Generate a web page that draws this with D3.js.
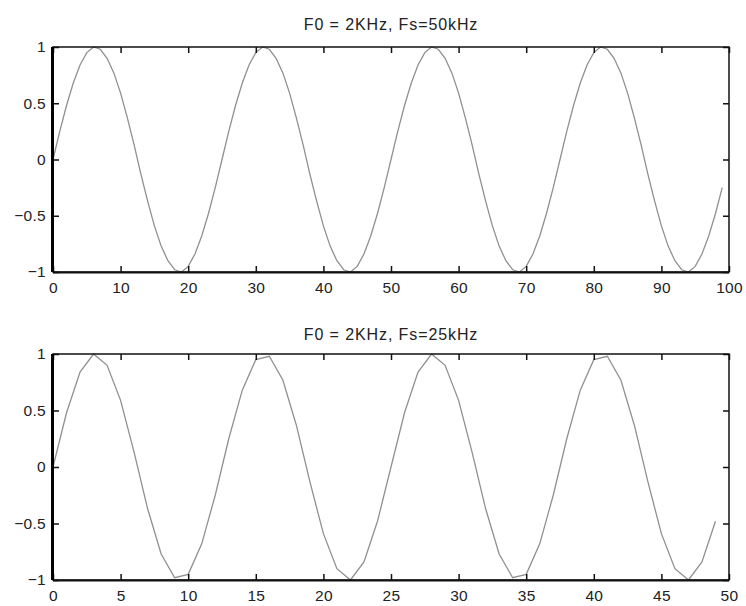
<!DOCTYPE html>
<html>
<head>
<meta charset="utf-8">
<script src="https://cdn.jsdelivr.net/npm/d3@7"></script>
<style>
  body { margin: 0; background: #fff; }
  svg { display: block; }
  text { font-family: "Liberation Sans", Arial, sans-serif; fill: #222; }
</style>
</head>
<body>
<svg id="chart" width="746" height="606"></svg>
<script>
// samples (sample index -> amplitude)
var fs50Values = [
  0, 0.25, 0.48, 0.68, 0.84, 0.95, 1.00, 0.98, 0.90, 0.77, 0.59, 0.37, 0.13,
  -0.13, -0.37, -0.59, -0.77, -0.90, -0.98, -1.00, -0.95, -0.84, -0.68, -0.48, -0.25,
  0, 0.25, 0.48, 0.68, 0.84, 0.95, 1.00, 0.98, 0.90, 0.77, 0.59, 0.37, 0.13,
  -0.13, -0.37, -0.59, -0.77, -0.90, -0.98, -1.00, -0.95, -0.84, -0.68, -0.48, -0.25,
  0, 0.25, 0.48, 0.68, 0.84, 0.95, 1.00, 0.98, 0.90, 0.77, 0.59, 0.37, 0.13,
  -0.13, -0.37, -0.59, -0.77, -0.90, -0.98, -1.00, -0.95, -0.84, -0.68, -0.48, -0.25,
  0, 0.25, 0.48, 0.68, 0.84, 0.95, 1.00, 0.98, 0.90, 0.77, 0.59, 0.37, 0.13,
  -0.13, -0.37, -0.59, -0.77, -0.90, -0.98, -1.00, -0.95, -0.84, -0.68, -0.48, -0.25
];
var fs25Values = [
  0, 0.48, 0.84, 1.00, 0.90, 0.59, 0.13, -0.37, -0.77, -0.98, -0.95, -0.68, -0.25,
  0.25, 0.68, 0.95, 0.98, 0.77, 0.37, -0.13, -0.59, -0.90, -1.00, -0.84, -0.48,
  0, 0.48, 0.84, 1.00, 0.90, 0.59, 0.13, -0.37, -0.77, -0.98, -0.95, -0.68, -0.25,
  0.25, 0.68, 0.95, 0.98, 0.77, 0.37, -0.13, -0.59, -0.90, -1.00, -0.84, -0.48
];

var titles = ["F0 = 2KHz, Fs=50kHz", "F0 = 2KHz, Fs=25kHz"];
var xMaxes = [100, 50];
var xTicks1 = [0, 10, 20, 30, 40, 50, 60, 70, 80, 90, 100];
var xTicks2 = [0, 5, 10, 15, 20, 25, 30, 35, 40, 45, 50];
var yTicks = [-1, -0.5, 0, 0.5, 1];
var yTickLabels = ["\u22121", "\u22120.5", "0", "0.5", "1"];

var svg = d3.select("#chart");

function drawPanel(values, xMax, xTicks, title, top, bottom, titleY) {
  var left = 53, right = 729;
  var x = d3.scaleLinear().domain([0, xMax]).range([left, right]);
  var y = d3.scaleLinear().domain([-1, 1]).range([bottom, top]);

  var g = svg.append("g");

  g.append("text")
    .attr("x", (left + right) / 2)
    .attr("y", titleY)
    .attr("text-anchor", "middle")
    .style("font-size", "16px")
    .style("letter-spacing", "0.9px")
    .text(title);

  var line = d3.line()
    .x(function(d, i) { return x(i); })
    .y(function(d) { return y(d); });

  g.append("path")
    .datum(values)
    .attr("fill", "none")
    .attr("stroke", "#909090")
    .attr("stroke-width", 1.3)
    .attr("d", line);

  // bottom axis, ticks pointing in
  var bx = g.append("g")
    .attr("transform", "translate(0," + bottom + ")")
    .call(d3.axisBottom(x).tickValues(xTicks).tickSize(-6).tickPadding(10));
  var tx = g.append("g")
    .attr("transform", "translate(0," + top + ")")
    .call(d3.axisTop(x).tickValues(xTicks).tickSize(-6).tickFormat(""));
  var ly = g.append("g")
    .attr("transform", "translate(" + left + ",0)")
    .call(d3.axisLeft(y).tickValues(yTicks).tickSize(-6).tickPadding(7)
      .tickFormat(function(d, i) { return yTickLabels[i]; }));
  var ry = g.append("g")
    .attr("transform", "translate(" + right + ",0)")
    .call(d3.axisRight(y).tickValues(yTicks).tickSize(-6).tickFormat(""));

  [bx, tx, ly, ry].forEach(function(a) {
    a.select(".domain").remove();
    a.selectAll(".tick line").attr("stroke", "#111").attr("stroke-width", 1.5);
    a.selectAll("text")
      .style("font-size", "15.5px")
      .style("letter-spacing", "0.3px")
      .style("font-family", "'Liberation Sans', Arial, sans-serif")
      .attr("fill", "#222");
  });

  // frame
  g.append("rect")
    .attr("x", left).attr("y", top)
    .attr("width", right - left).attr("height", bottom - top)
    .attr("fill", "none")
    .attr("stroke", "#111")
    .attr("stroke-width", 1.5);
  g.append("line")
    .attr("x1", left - 0.5).attr("x2", left - 0.5)
    .attr("y1", top).attr("y2", bottom)
    .attr("stroke", "#000")
    .attr("stroke-width", 3);
  g.append("line")
    .attr("x1", left).attr("x2", right)
    .attr("y1", bottom + 0.5).attr("y2", bottom + 0.5)
    .attr("stroke", "#111")
    .attr("stroke-width", 2);
}

drawPanel(fs50Values, xMaxes[0], xTicks1, titles[0], 47, 272, 30);
drawPanel(fs25Values, xMaxes[1], xTicks2, titles[1], 354, 580, 340);
</script>
</body>
</html>
